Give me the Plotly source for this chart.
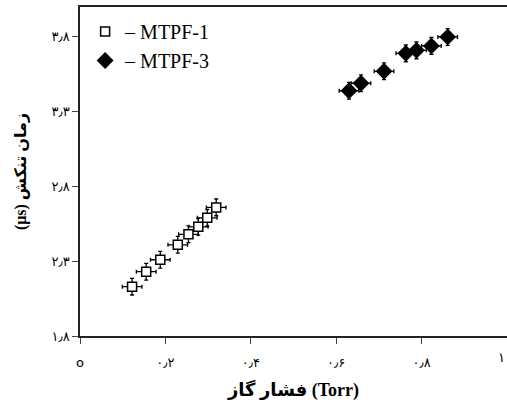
import plotly.graph_objects as go

# Data
mtpf1_x = [0.122, 0.155, 0.188, 0.229, 0.254, 0.277, 0.298, 0.319]
mtpf1_y = [2.13, 2.23, 2.31, 2.41, 2.48, 2.53, 2.59, 2.66]
mtpf3_x = [0.630, 0.658, 0.712, 0.763, 0.788, 0.823, 0.861]
mtpf3_y = [3.44, 3.49, 3.57, 3.69, 3.71, 3.74, 3.80]
err_x = 0.023
err_y = 0.056

x_tickvals = [0, 0.2, 0.4, 0.6, 0.8, 1.0]
x_ticktext = ["o", "۰٫۲", "۰٫۴", "۰٫۶", "۰٫۸", ""]
x_last_label = "۱"
y_tickvals = [1.8, 2.3, 2.8, 3.3, 3.8]
y_ticktext = ["۱٫۸", "۲٫۳", "۲٫۸", "۳٫۳", "۳٫۸"]

serif = "Liberation Serif, DejaVu Serif, DejaVu Sans"
persian = "DejaVu Sans"

fig = go.Figure()
fig.add_trace(go.Scatter(
    x=mtpf1_x, y=mtpf1_y, mode="markers", name="– MTPF-1",
    marker=dict(symbol="square", size=9, color="white", line=dict(color="black", width=1.5)),
    error_x=dict(type="constant", value=err_x, color="black", thickness=1.3, width=2),
    error_y=dict(type="constant", value=err_y, color="black", thickness=1.3, width=2),
))
fig.add_trace(go.Scatter(
    x=mtpf3_x, y=mtpf3_y, mode="markers", name="– MTPF-3",
    marker=dict(symbol="diamond", size=13, color="black", line=dict(color="black", width=0)),
    error_x=dict(type="constant", value=err_x, color="black", thickness=1.3, width=2),
    error_y=dict(type="constant", value=err_y, color="black", thickness=1.3, width=2),
))

fig.add_annotation(x=1.0, y=0, xref="x", yref="paper", text=x_last_label,
                   xanchor="right", yanchor="top", yshift=-12, showarrow=False,
                   font=dict(family=persian, size=13, color="black"))

fig.update_layout(
    width=507, height=410,
    margin=dict(l=80, r=0, t=7, b=74, autoexpand=False),
    paper_bgcolor="white", plot_bgcolor="white",
    showlegend=True,
    legend=dict(x=0.012, y=0.985, xanchor="left", yanchor="top",
                font=dict(family=serif, size=20, color="black"),
                itemwidth=30, tracegroupgap=0, bgcolor="rgba(0,0,0,0)"),
    xaxis=dict(range=[0, 1.0], tickvals=x_tickvals, ticktext=x_ticktext,
               automargin=False,
               showgrid=False, zeroline=False, showline=True, linecolor="#222",
               linewidth=1.5, mirror=True, ticks="outside", ticklen=6, tickcolor="#444",
               tickfont=dict(family=persian, size=13, color="black"),
               ticklabelstandoff=8,
               title=dict(text="<b>فشار گاز (Torr)</b>", font=dict(family=serif, size=18, color="black"),
                          standoff=14)),
    yaxis=dict(range=[1.8, 4.0], tickvals=y_tickvals, ticktext=y_ticktext,
               automargin=False,
               showgrid=False, zeroline=False, showline=True, linecolor="#222",
               linewidth=1.5, mirror=False, ticks="outside", ticklen=6, tickcolor="#444",
               tickfont=dict(family=persian, size=13, color="black"),
               title=dict(text="<b>(μs) زمان تنکش</b>", font=dict(family=serif, size=16, color="black"),
                          standoff=21)),
)

fig.write_html("out.html", config={"displayModeBar": False},
               post_script="document.body.style.margin='0';document.body.style.overflow='hidden';")
